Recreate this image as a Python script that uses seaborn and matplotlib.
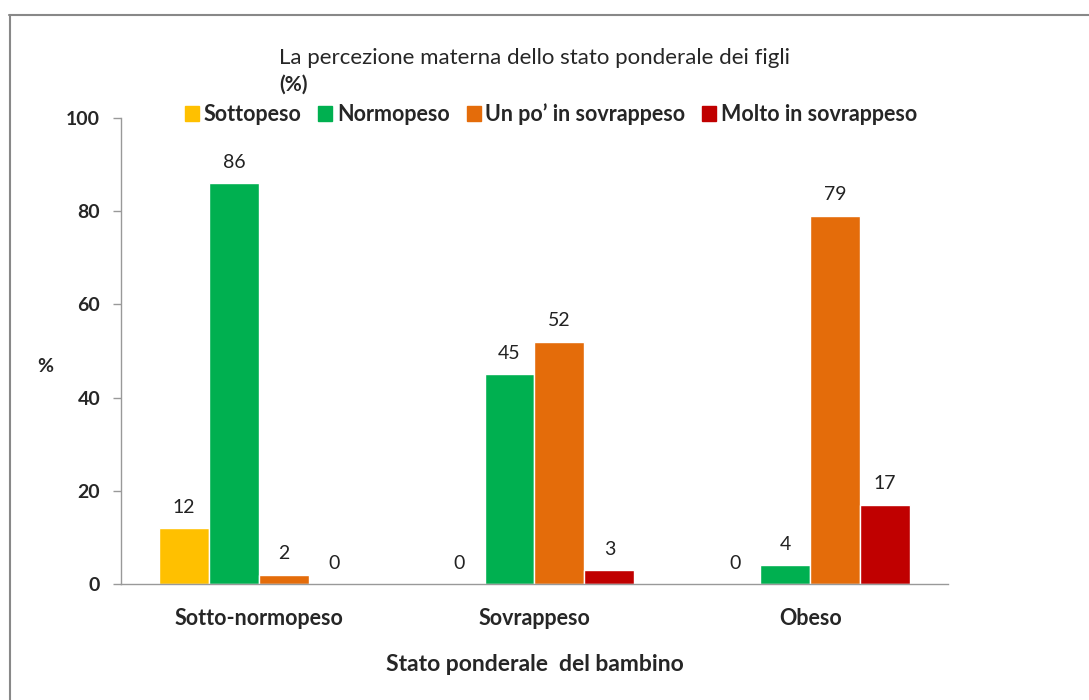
import pandas as pd
import numpy as np
import matplotlib.pyplot as plt
import seaborn as sns
from matplotlib.lines import Line2D
from matplotlib.ticker import FixedLocator

# data
categories = ['Sotto-normopeso', 'Sovrappeso', 'Obeso']
perceptions = ['Sottopeso', 'Normopeso', "Un po\u2019 in sovrappeso", 'Molto in sovrappeso']
sottopeso = [12, 0, 0]
normopeso = [86, 45, 4]
un_po_sovrappeso = [2, 52, 79]
molto_sovrappeso = [0, 3, 17]
colors = ['#FFC000', '#00B050', '#E46C0A', '#C00000']
y_ticks = [0, 20, 40, 60, 80, 100]


def main():
    rows = []
    for name, vals in zip(perceptions, [sottopeso, normopeso, un_po_sovrappeso, molto_sovrappeso]):
        for cat, v in zip(categories, vals):
            rows.append({'stato': cat, 'percezione': name, 'valore': v})
    data = pd.DataFrame(rows)

    sns.set_theme(style="white")
    plt.rcParams['font.family'] = ['Lato', 'DejaVu Sans']
    fig = plt.figure(figsize=(10.89, 7), dpi=100)
    ax = fig.add_axes([0.1111, 0.1657, 0.7594, 0.6657])

    g = sns.barplot(
        data=data,
        x='stato',
        y='valore',
        hue='percezione',
        hue_order=perceptions,
        order=categories,
        palette=colors,
        width=0.725,
        saturation=1,
        ax=ax)

    for cont in ax.containers:
        ax.bar_label(cont, labels=[f'{v:.0f}' for v in cont.datavalues],
                     padding=9, fontsize=14, color='#222222')

    ax.set_ylim(0, 100)
    ax.set_xlim(-0.5, 2.5)
    ax.set_yticks(y_ticks)
    ax.set_yticklabels([str(t) for t in y_ticks], fontsize=14, fontweight='bold')
    ax.xaxis.set_minor_locator(FixedLocator([-0.5, 0.5, 1.5, 2.5]))
    ax.tick_params(axis='x', which='major', length=0, pad=17, labelsize=15.5)
    ax.tick_params(axis='x', which='minor', length=10, width=1, color='#999999', direction='out')
    ax.tick_params(axis='y', length=6, width=1, color='#999999', direction='out', pad=9, left=True)
    for lbl in ax.get_xticklabels():
        lbl.set_fontweight('bold')

    g.set_xlabel('Stato ponderale  del bambino', fontsize=16.5, fontweight='bold', labelpad=18)
    g.set_ylabel('')
    fig.text(45 / 1089, 1 - 367 / 700, '%', fontsize=14, fontweight='bold',
             ha='center', va='center')
    sns.despine(ax=ax)
    for s in ['left', 'bottom']:
        ax.spines[s].set_color('#999999')
        ax.spines[s].set_linewidth(1)

    ax.legend_.remove()
    handles = [plt.Rectangle((0, 0), 1, 1, color=c) for c in colors]
    fig.legend(handles, perceptions, ncol=4, loc='center',
               bbox_to_anchor=(0.506, 0.837), frameon=False,
               prop={'size': 15.5, 'weight': 'bold'},
               handlelength=0.65, handleheight=0.65, handletextpad=0.2,
               columnspacing=0.8, borderaxespad=0)

    fig.text(279 / 1089, 1 - 58 / 700, 'La percezione materna dello stato ponderale dei figli',
             fontsize=16, ha='left', va='center')
    fig.text(279 / 1089, 1 - 85 / 700, '(%)', fontsize=15, ha='left', va='center',
             fontweight='bold')

    # outer chart frame
    fig.add_artist(Line2D([9.5 / 1089, 9.5 / 1089], [0, 1 - 14.5 / 700],
                          transform=fig.transFigure, color='#888888', lw=1.5))
    fig.add_artist(Line2D([9 / 1089, 1], [1 - 14.5 / 700, 1 - 14.5 / 700],
                          transform=fig.transFigure, color='#888888', lw=1.5))

    fig.savefig('out.png', dpi=100)


if __name__ == '__main__':
    main()
